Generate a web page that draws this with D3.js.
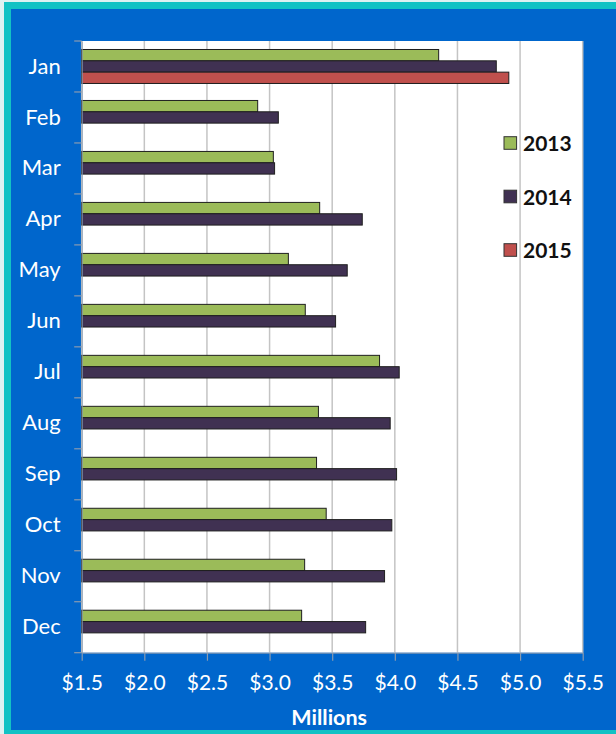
<!DOCTYPE html>
<html>
<head>
<meta charset="utf-8">
<script src="https://cdn.jsdelivr.net/npm/d3@7"></script>
<style>
  body { margin: 0; background: #ffffff; }
  svg { display: block; }
</style>
</head>
<body>
<div class="diagram"></div>
<script>
// data (values in millions of dollars)
const months = ["Jan", "Feb", "Mar", "Apr", "May", "Jun", "Jul", "Aug", "Sep", "Oct", "Nov", "Dec"];
const seriesNames = ["2013", "2014", "2015"];
const values2013 = [4.35, 2.905, 3.03, 3.40, 3.15, 3.285, 3.878, 3.39, 3.375, 3.452, 3.28, 3.256];
const values2014 = [4.81, 3.07, 3.04, 3.74, 3.62, 3.527, 4.035, 3.963, 4.014, 3.976, 3.918, 3.767];
const values2015 = [4.91, null, null, null, null, null, null, null, null, null, null, null];
const xTicks = [1.5, 2.0, 2.5, 3.0, 3.5, 4.0, 4.5, 5.0, 5.5];
const colors = ["#9bbb59", "#403152", "#c0504d"];

const W = 616, H = 734;
const plot = {left: 81.7, right: 582.7, top: 41, bottom: 652.7};
const font = "Lato, 'Open Sans', sans-serif";

const svg = d3.select(".diagram")
  .append("svg")
    .attr("width", W)
    .attr("height", H);

// frame: pale edge, teal border, blue panel
svg.append("rect").attr("width", W).attr("height", H).attr("fill", "#dff2f2");
svg.append("rect").attr("x", 4).attr("y", 2).attr("width", W - 4).attr("height", H - 2).attr("fill", "#12c2c4");
svg.append("rect").attr("x", 11).attr("y", 9).attr("width", W - 11).attr("height", 730 - 9).attr("fill", "#0066cc");

// plot area
svg.append("rect")
  .attr("x", plot.left).attr("y", plot.top)
  .attr("width", plot.right - plot.left).attr("height", plot.bottom - plot.top)
  .attr("fill", "#ffffff");

const x = d3.scaleLinear()
  .domain([1.5, 5.5])
  .range([plot.left, plot.right]);

const y = d3.scaleBand()
  .domain(months)
  .range([plot.top, plot.bottom]);

// 150% gap width like the spreadsheet chart
const y1 = d3.scaleBand()
  .domain(seriesNames)
  .range([0, y.bandwidth()])
  .paddingInner(0)
  .paddingOuter(0.75);

// vertical gridlines
svg.append("g")
  .selectAll("line")
  .data(xTicks)
  .join("line")
    .attr("x1", d => x(d)).attr("x2", d => x(d))
    .attr("y1", plot.top).attr("y2", plot.bottom)
    .attr("stroke", "#c4c4c4")
    .attr("stroke-width", 1.5);

// bars
const rows = months.map((m, i) => ({
  month: m,
  vals: [values2013[i], values2014[i], values2015[i]]
}));

const groups = svg.append("g")
  .selectAll("g")
  .data(rows)
  .join("g")
    .attr("transform", d => `translate(0, ${y(d.month)})`);

groups.selectAll("rect")
  .data(d => d.vals.map((v, j) => ({series: seriesNames[j], value: v, color: colors[j]})).filter(d => d.value != null))
  .join("rect")
    .attr("x", x(1.5))
    .attr("y", d => y1(d.series))
    .attr("width", d => x(d.value) - x(1.5))
    .attr("height", y1.bandwidth())
    .attr("fill", d => d.color)
    .attr("stroke", "#1f1f1f")
    .attr("stroke-width", 1);

// left axis: labels at band centres, ticks at band boundaries
const yAxis = svg.append("g")
  .attr("transform", `translate(${plot.left}, 0)`)
  .call(d3.axisLeft(y).tickSize(0).tickPadding(21));
yAxis.select(".domain").attr("stroke", "#8a9bb0").attr("stroke-width", 1);
yAxis.selectAll("text")
  .attr("fill", "#ffffff")
  .style("font-family", font)
  .style("font-size", "22px");

const bounds = months.map(m => y(m)).concat([plot.bottom]);
svg.append("g")
  .selectAll("line")
  .data(bounds)
  .join("line")
    .attr("x1", plot.left - 7.5).attr("x2", plot.left)
    .attr("y1", d => d).attr("y2", d => d)
    .attr("stroke", "#8a9bb0")
    .attr("stroke-width", 1.2);

// bottom axis
const xAxis = svg.append("g")
  .attr("transform", `translate(0, ${plot.bottom})`)
  .call(d3.axisBottom(x)
    .tickValues(xTicks)
    .tickSize(8)
    .tickSizeOuter(0)
    .tickPadding(14)
    .tickFormat(d => "$" + d.toFixed(1)));
xAxis.select(".domain").attr("stroke", "#8a9bb0");
xAxis.selectAll(".tick line").attr("stroke", "#8a9bb0").attr("stroke-width", 1.2);
xAxis.selectAll("text")
  .attr("fill", "#ffffff")
  .style("font-family", font)
  .style("font-size", "21px");

svg.append("text")
  .attr("x", (plot.left + plot.right) / 2 - 3)
  .attr("y", 724.5)
  .attr("text-anchor", "middle")
  .attr("fill", "#ffffff")
  .style("font-family", font)
  .style("font-weight", "bold")
  .style("font-size", "21.5px")
  .text("Millions");

// legend
const legend = svg.append("g")
  .selectAll("g")
  .data(seriesNames)
  .join("g")
    .attr("transform", (d, i) => `translate(504, ${143 + i * 53.5})`);

legend.append("rect")
  .attr("x", 0).attr("y", -6.3)
  .attr("width", 12.6).attr("height", 12.6)
  .attr("fill", (d, i) => colors[i])
  .attr("stroke", "#333333")
  .attr("stroke-width", 1);

legend.append("text")
  .attr("x", 19)
  .attr("y", 8)
  .attr("fill", "#111111")
  .style("font-family", font)
  .style("font-weight", "bold")
  .style("font-size", "21px")
  .text(d => d);
</script>
</body>
</html>
